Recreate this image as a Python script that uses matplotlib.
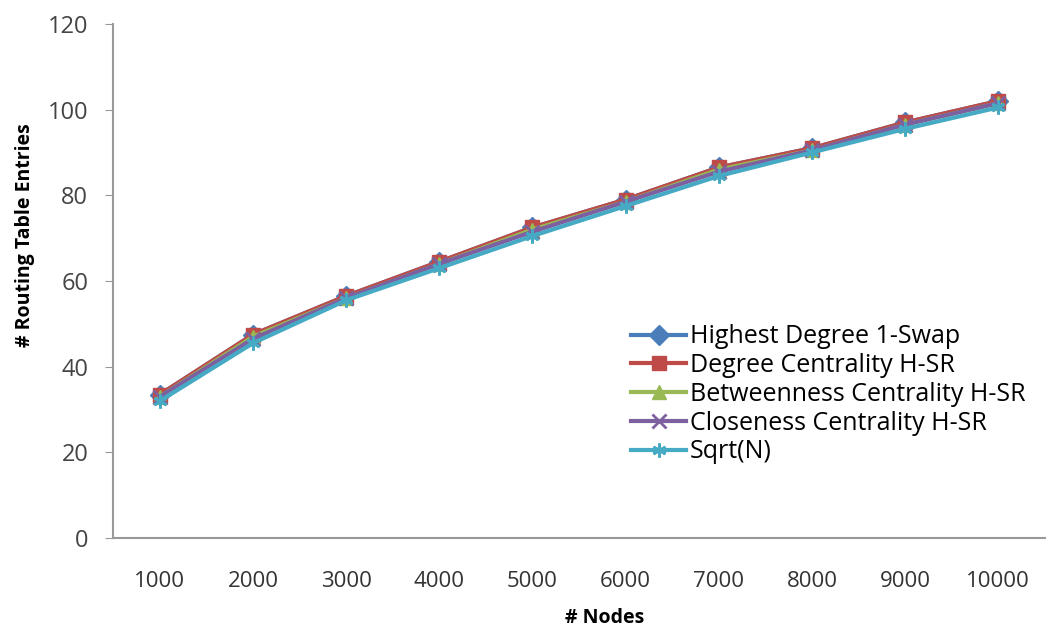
import matplotlib.pyplot as plt

nodes = ["1000", "2000", "3000", "4000", "5000", "6000", "7000", "8000", "9000", "10000"]

highest_degree = [33.5, 47.5, 56.5, 64.5, 72.5, 79.0, 86.5, 91.0, 97.0, 102.0]
degree_centrality = [33.5, 47.5, 56.5, 64.5, 72.5, 79.0, 86.5, 91.0, 97.0, 102.0]
betweenness_centrality = [33.0, 47.0, 56.0, 64.0, 72.0, 78.5, 86.0, 90.5, 96.5, 101.5]
closeness_centrality = [33.0, 46.5, 56.0, 64.0, 71.5, 78.5, 85.5, 90.5, 96.5, 101.5]
sqrt_n = [32.0, 45.5, 55.5, 63.0, 70.5, 77.5, 84.5, 90.0, 95.5, 100.5]

series = [
    ("Highest Degree 1-Swap", highest_degree, "#4A7EBB", "D"),
    ("Degree Centrality H-SR", degree_centrality, "#BE4B48", "s"),
    ("Betweenness Centrality H-SR", betweenness_centrality, "#98B954", "^"),
    ("Closeness Centrality H-SR", closeness_centrality, "#7D60A0", "x"),
    ("Sqrt(N)", sqrt_n, "#46AAC5", (6, 2, 0)),
]

plt.rcParams["font.family"] = ["Open Sans", "DejaVu Sans"]

fig = plt.figure(figsize=(10.49, 6.30), dpi=100)
ax = fig.add_axes([0.108, 0.146, 0.888, 0.816])

x = list(range(len(nodes)))
for name, vals, color, marker in series:
    ax.plot(x, vals, color=color, marker=marker, markersize=10, linewidth=3,
            markeredgewidth=2 if marker in ("x", (6, 2, 0)) else 1,
            label=name)

ax.set_xlim(-0.5, len(nodes) - 0.5)
ax.set_ylim(0, 120)
ax.set_yticks(range(0, 121, 20))
ax.set_xticks(x)
ax.set_xticklabels(nodes)
ax.tick_params(axis="x", length=0, pad=24, labelsize=16, labelcolor="#333333")
ax.tick_params(axis="y", length=6, direction="out", pad=12, labelsize=17,
               labelcolor="#444444", color="#999999")

for side in ["top", "right"]:
    ax.spines[side].set_visible(False)
for side in ["left", "bottom"]:
    ax.spines[side].set_color("#999999")
    ax.spines[side].set_linewidth(1.5)

ax.set_xlabel("# Nodes", fontsize=14, fontweight="bold")
ax.set_ylabel("# Routing Table Entries", fontsize=14, fontweight="bold")
ax.xaxis.set_label_coords(0.527, -0.136)
ax.yaxis.set_label_coords(-0.084, 0.59)

ax.legend(loc="upper left", bbox_to_anchor=(0.59, 0.505),
          bbox_transform=fig.transFigure, frameon=False,
          fontsize=18, handlelength=2.2, handletextpad=0.15,
          labelspacing=0.15, borderpad=0)

plt.savefig("out.png", dpi=100)
plt.close()
